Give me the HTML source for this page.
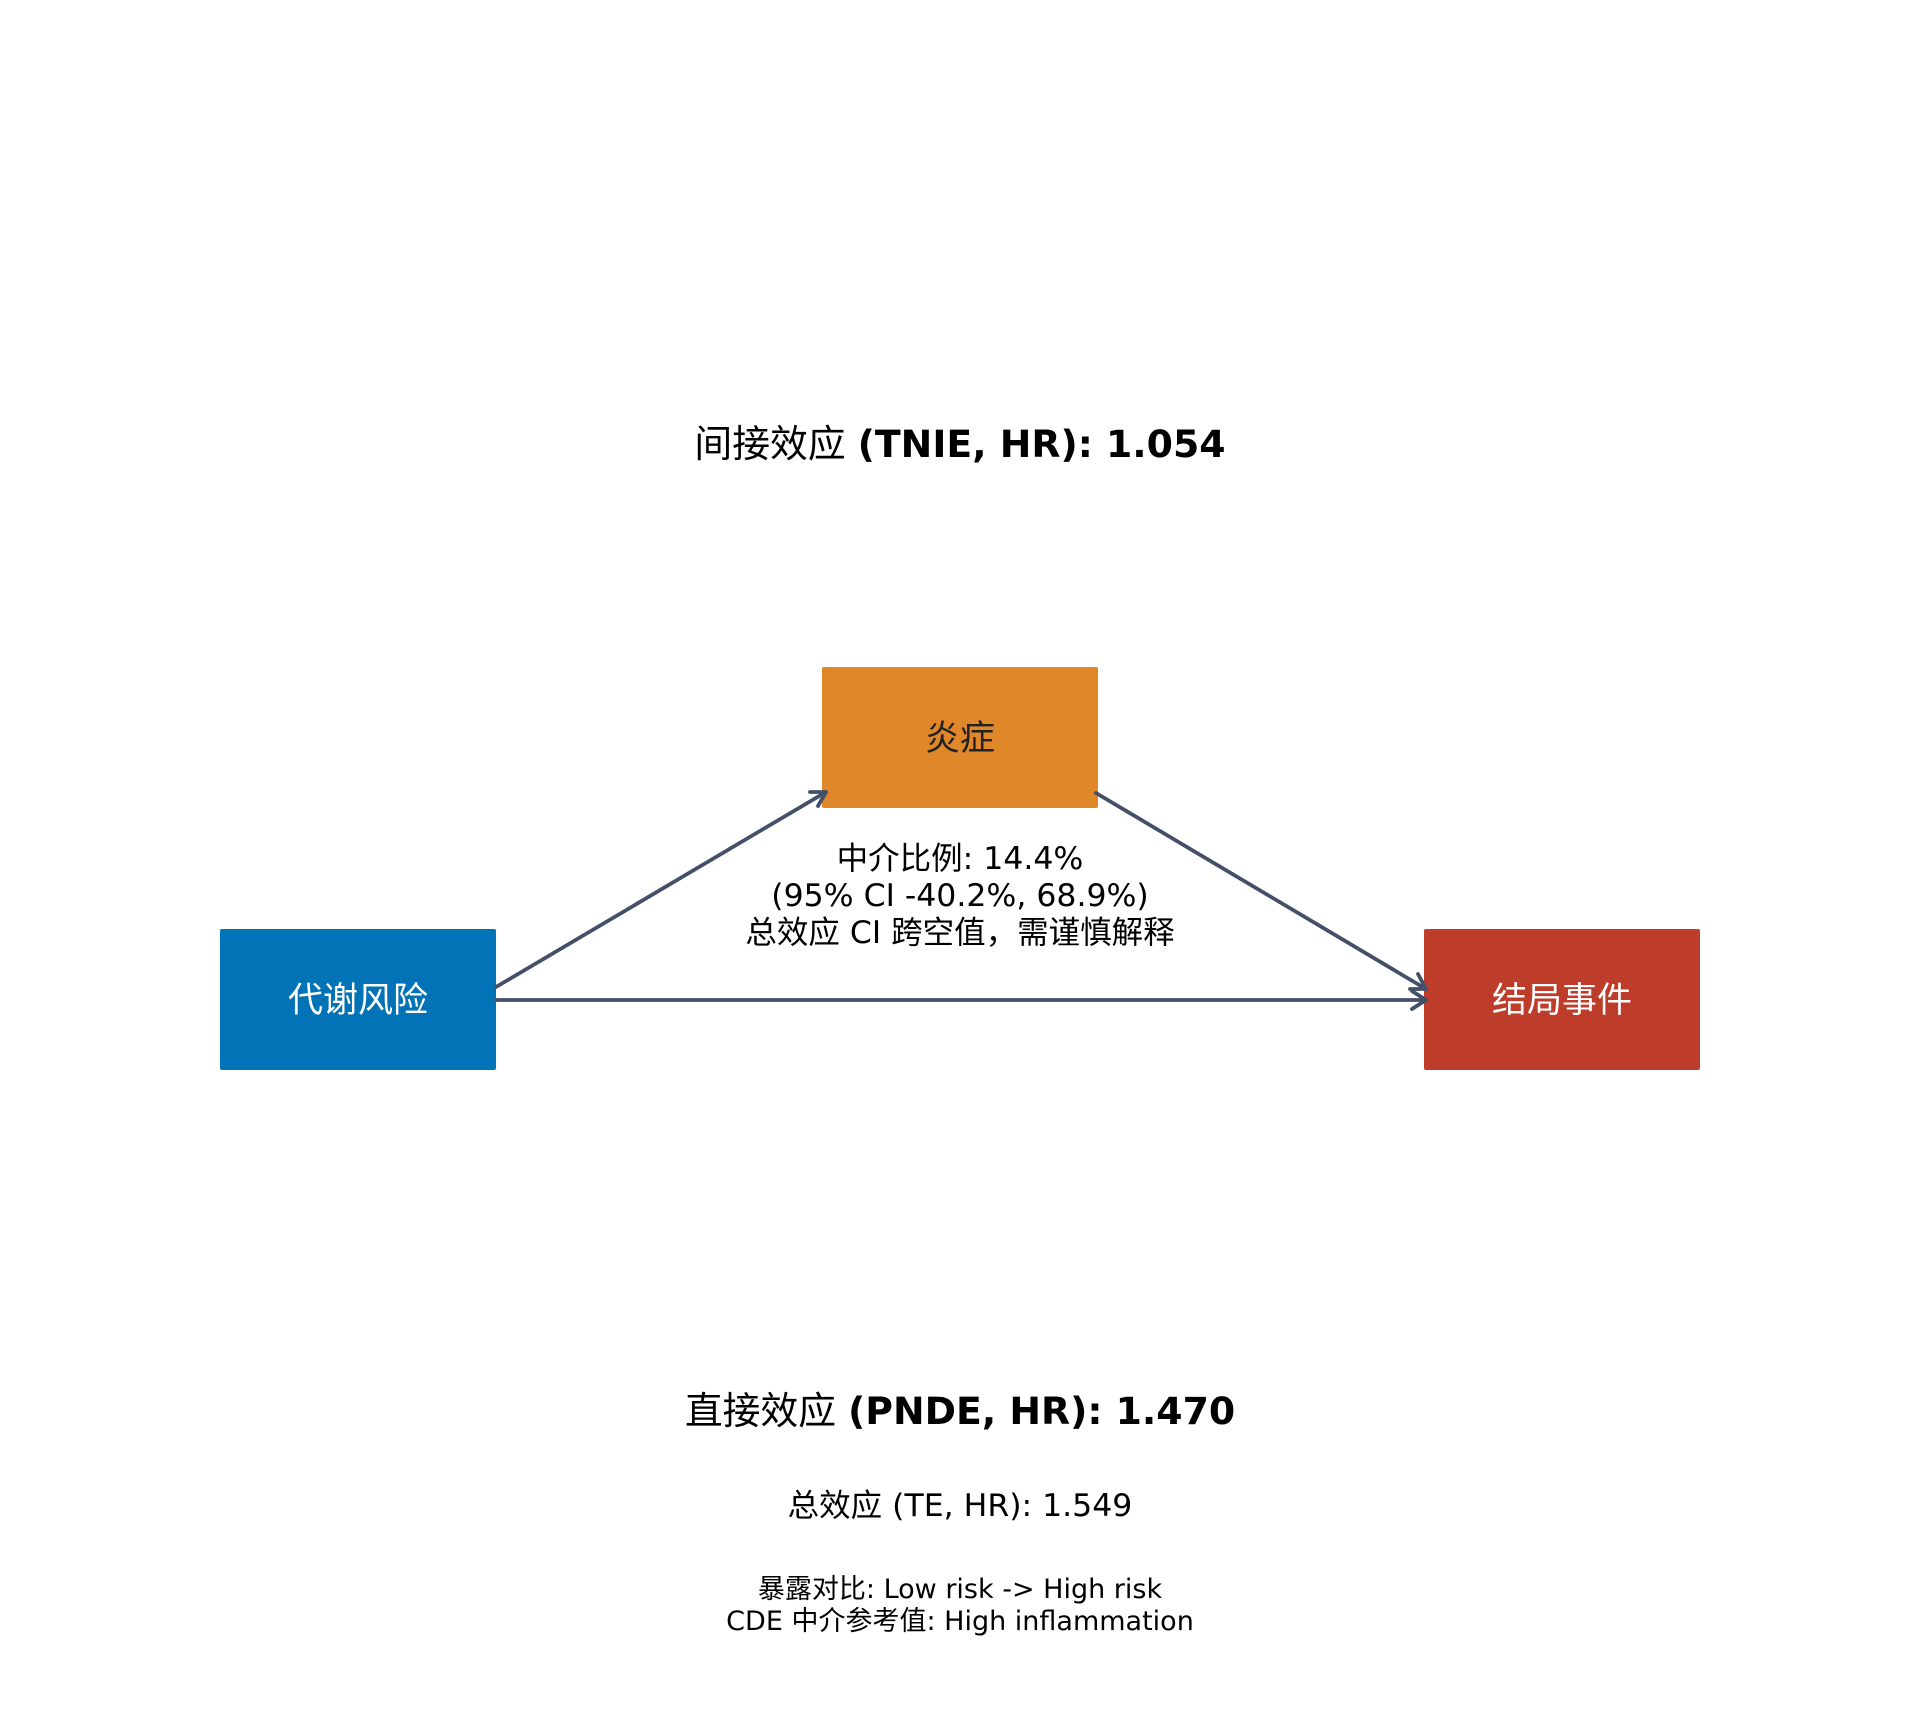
<!DOCTYPE html>
<html><head><meta charset="utf-8"><style>
html,body{margin:0;padding:0;background:#fff;}
svg{display:block;}
text{font-family:"DejaVu Sans","Liberation Sans","Noto Sans CJK SC",sans-serif;}
</style></head><body>
<svg width="1920" height="1728" viewBox="0 0 1920 1728" xmlns="http://www.w3.org/2000/svg">
<rect width="1920" height="1728" fill="#fff"/>
<text x="960" y="457" text-anchor="middle" font-size="37.8" fill="#000"><tspan>间接效应 </tspan><tspan font-weight="bold">(TNIE, HR): 1.054</tspan></text>
<rect x="822" y="667" width="276" height="141" rx="2" fill="#e08829"/>
<rect x="220" y="929" width="276" height="141" rx="2" fill="#0173b6"/>
<rect x="1424" y="929" width="276" height="141" rx="2" fill="#bd3c2a"/>
<text x="960" y="750" text-anchor="middle" font-size="35" fill="#222">炎症</text>
<text x="358" y="1012" text-anchor="middle" font-size="35" fill="#fff">代谢风险</text>
<text x="1562" y="1012" text-anchor="middle" font-size="35" fill="#fff">结局事件</text>
<g stroke="#435068" stroke-width="3.8" fill="none" stroke-linecap="round" stroke-linejoin="round">
<line x1="496" y1="987" x2="826" y2="792"/>
<polyline points="810,792 826,792 818,806"/>
<line x1="1096" y1="793" x2="1426" y2="989"/>
<polyline points="1418,974 1426,989 1410,989"/>
<line x1="496" y1="1000" x2="1426" y2="1000"/>
<polyline points="1412,991 1426,1000 1412,1009"/>
</g>
<text x="960" y="869" text-anchor="middle" font-size="31.5" fill="#000">中介比例: 14.4%</text>
<text x="960" y="906" text-anchor="middle" font-size="31.5" fill="#000">(95% CI -40.2%, 68.9%)</text>
<text x="960" y="943" text-anchor="middle" font-size="31.5" fill="#000">总效应 CI 跨空值，需谨慎解释</text>
<text x="960" y="1424" text-anchor="middle" font-size="37.8" fill="#000"><tspan>直接效应 </tspan><tspan font-weight="bold">(PNDE, HR): 1.470</tspan></text>
<text x="960" y="1516" text-anchor="middle" font-size="31.5" fill="#000">总效应 (TE, HR): 1.549</text>
<text x="960" y="1598" text-anchor="middle" font-size="27" fill="#000">暴露对比: Low risk -&gt; High risk</text>
<text x="960" y="1630" text-anchor="middle" font-size="27" fill="#000">CDE 中介参考值: High inflammation</text>
</svg>
</body></html>
